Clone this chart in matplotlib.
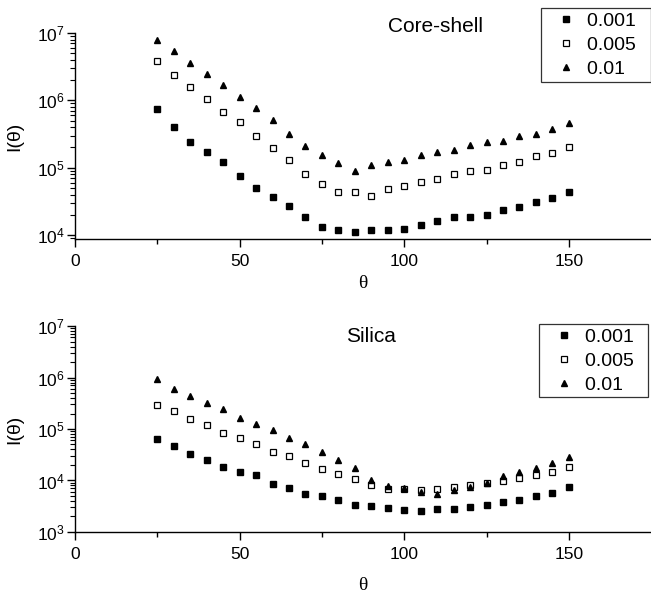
import numpy as np
import matplotlib.pyplot as plt
from matplotlib.ticker import LogLocator, NullFormatter, FixedLocator

plt.rcParams['font.family'] = ['Liberation Sans', 'DejaVu Sans']

# scattering angle (deg)
theta = [25, 30, 35, 40, 45, 50, 55, 60, 65, 70, 75, 80, 85, 90, 95,
         100, 105, 110, 115, 120, 125, 130, 135, 140, 145, 150]
labels = ['0.001', '0.005', '0.01']

# Core-shell intensities
cs_001 = [7.4e5, 4.0e5, 2.4e5, 1.72e5, 1.2e5, 7.6e4, 5.0e4, 3.7e4, 2.7e4, 1.86e4,
          1.33e4, 1.19e4, 1.1e4, 1.19e4, 1.19e4, 1.22e4, 1.41e4, 1.6e4, 1.83e4,
          1.83e4, 2.0e4, 2.4e4, 2.6e4, 3.1e4, 3.5e4, 4.4e4]
cs_005 = [3.9e6, 2.35e6, 1.58e6, 1.05e6, 6.8e5, 4.7e5, 3.0e5, 1.95e5, 1.3e5, 8.2e4,
          5.7e4, 4.3e4, 4.3e4, 3.8e4, 4.8e4, 5.4e4, 6.2e4, 6.7e4, 8.1e4, 8.9e4,
          9.3e4, 1.1e5, 1.22e5, 1.47e5, 1.68e5, 2.0e5]
cs_01 = [7.8e6, 5.5e6, 3.6e6, 2.5e6, 1.67e6, 1.13e6, 7.6e5, 5.1e5, 3.2e5, 2.1e5,
         1.55e5, 1.17e5, 9.1e4, 1.1e5, 1.2e5, 1.32e5, 1.55e5, 1.74e5, 1.84e5,
         2.14e5, 2.4e5, 2.5e5, 2.95e5, 3.2e5, 3.8e5, 4.6e5]

# Silica intensities
si_001 = [6.5e4, 4.7e4, 3.2e4, 2.5e4, 1.82e4, 1.45e4, 1.25e4, 8.4e3, 7.2e3, 5.5e3,
          5.1e3, 4.1e3, 3.4e3, 3.2e3, 2.94e3, 2.7e3, 2.6e3, 2.8e3, 2.82e3, 3.05e3,
          3.4e3, 3.8e3, 4.1e3, 5.1e3, 5.7e3, 7.4e3]
si_005 = [2.9e5, 2.2e5, 1.58e5, 1.18e5, 8.2e4, 6.8e4, 5.0e4, 3.6e4, 3.0e4, 2.14e4,
          1.64e4, 1.35e4, 1.07e4, 8.2e3, 6.8e3, 6.8e3, 6.4e3, 6.8e3, 7.4e3, 8.0e3,
          9.1e3, 9.9e3, 1.12e4, 1.29e4, 1.48e4, 1.83e4]
si_01 = [9.2e5, 6.0e5, 4.3e5, 3.2e5, 2.4e5, 1.62e5, 1.26e5, 9.6e4, 6.8e4, 5.0e4,
         3.55e4, 2.5e4, 1.74e4, 1.03e4, 7.7e3, 7.0e3, 5.9e3, 5.5e3, 6.4e3, 7.5e3,
         9.1e3, 1.2e4, 1.45e4, 1.78e4, 2.2e4, 2.9e4]

fig = plt.figure(figsize=(6.51, 5.95), dpi=100)
ax1 = fig.add_axes([0.1152, 0.598, 0.885, 0.3465])
ax2 = fig.add_axes([0.1152, 0.106, 0.885, 0.346])

styles = [dict(marker='s', color='black', markersize=4),
          dict(marker='s', markerfacecolor='white', markeredgecolor='black',
               markeredgewidth=0.9, markersize=4),
          dict(marker='^', color='black', markersize=4.6)]

# axes, data, title, ylim, title pos (axes frac), legend upper-right anchor
panels = [(ax1, [cs_001, cs_005, cs_01], 'Core-shell', (8.7e3, 1e7),
           (0.625, 1.03), (0.999, 1.121)),
          (ax2, [si_001, si_005, si_01], 'Silica', (1e3, 1e7),
           (0.514, 0.951), (0.995, 1.01))]

for ax, series, title, ylim, tpos, lpos in panels:
    for y, lab, st in zip(series, labels, styles):
        ax.plot(theta, y, linestyle='none', label=lab + '  ', **st)
    ax.set_yscale('log')
    ax.set_xlim(0, 175)
    ax.set_ylim(*ylim)
    for s in ['top', 'right']:
        ax.spines[s].set_visible(False)
    for s in ['left', 'bottom']:
        ax.spines[s].set_linewidth(1.0)
    ax.xaxis.set_major_locator(FixedLocator([0, 50, 100, 150]))
    ax.xaxis.set_minor_locator(FixedLocator([25, 75, 125]))
    ax.yaxis.set_major_locator(LogLocator(base=10, numticks=10))
    ax.yaxis.set_minor_locator(LogLocator(base=10, subs=np.arange(2, 10), numticks=10))
    ax.yaxis.set_minor_formatter(NullFormatter())
    ax.tick_params(axis='x', which='major', direction='out', length=6, width=1,
                   labelsize=12.5, pad=5)
    ax.tick_params(axis='y', which='major', direction='out', length=6, width=1,
                   labelsize=12.5, pad=1.5)
    ax.tick_params(axis='x', which='minor', direction='out', length=3.6, width=1)
    ax.tick_params(axis='y', which='minor', direction='out', length=3.5, width=0.8)
    ax.set_ylabel('I(θ)', fontsize=14)
    ax.yaxis.set_label_coords(-0.09, 0.5)
    ax.text(tpos[0], tpos[1], title, transform=ax.transAxes, ha='center',
            va='center', fontsize=15)
    leg = ax.legend(loc='upper right', bbox_to_anchor=lpos, fontsize=14,
                    frameon=True, fancybox=False, edgecolor='black',
                    handlelength=2.17, handletextpad=0.0, borderpad=0.2,
                    labelspacing=0.33, borderaxespad=0)
    leg.get_frame().set_linewidth(0.9)

ax1.set_xlabel('θ', family='Liberation Serif', fontsize=14, labelpad=4)
ax2.set_xlabel('θ', family='Liberation Serif', fontsize=14, labelpad=10.5)

fig.savefig('out.png', dpi=100)
